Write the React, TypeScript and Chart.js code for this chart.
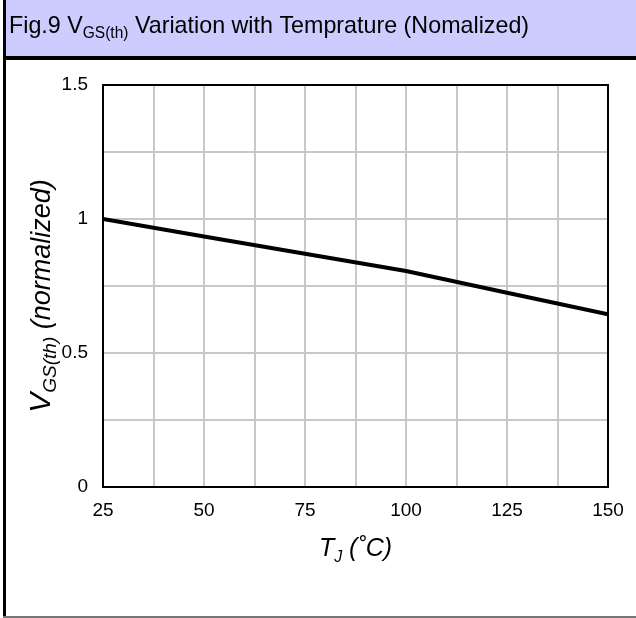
import React, { useEffect, useRef } from "react";
import { Chart, registerables } from "chart.js";

Chart.register(...registerables);

const temps = [25, 50, 75, 100, 125, 150];
const vgsNorm = [1.0, 0.935, 0.87, 0.806, 0.725, 0.644];
const xTickLabels = [25, 50, 75, 100, 125, 150];
const yTickLabels = [0, 0.5, 1, 1.5];

const FONT = "'Liberation Sans', Arial, sans-serif";

type Part = { text: string; size: number; italic?: boolean; dy?: number };

function drawRich(
  ctx: CanvasRenderingContext2D,
  parts: Part[],
  x: number,
  y: number,
  align: "left" | "center",
  sx = 1
) {
  let total = 0;
  for (const p of parts) {
    ctx.font = `${p.italic ? "italic " : ""}${p.size}px ${FONT}`;
    total += ctx.measureText(p.text).width;
  }
  ctx.save();
  ctx.translate(x, y);
  ctx.scale(sx, 1);
  let cx = align === "center" ? -total / 2 : 0;
  ctx.textAlign = "left";
  ctx.textBaseline = "alphabetic";
  for (const p of parts) {
    ctx.font = `${p.italic ? "italic " : ""}${p.size}px ${FONT}`;
    ctx.fillText(p.text, cx, p.dy || 0);
    cx += ctx.measureText(p.text).width;
  }
  ctx.restore();
}

const framePlugin = {
  id: "frame",
  beforeDraw(chart: any) {
    const ctx = chart.ctx as CanvasRenderingContext2D;
    const W = chart.width;
    const H = chart.height;
    ctx.save();
    ctx.fillStyle = "#fff";
    ctx.fillRect(0, 0, W, H);
    ctx.fillStyle = "#ccccff";
    ctx.fillRect(6, 0, W - 6, 56);
    ctx.fillStyle = "#000";
    ctx.fillRect(3, 56, W - 3, 4);
    ctx.fillRect(3, 0, 3, H);
    ctx.fillStyle = "#777";
    ctx.fillRect(3, H - 2, W - 3, 2);
    ctx.fillStyle = "#000";
    drawRich(
      ctx,
      [
        { text: "Fig.9 V", size: 24 },
        { text: "GS(th)", size: 16, dy: 5 },
        { text: " Variation with Temprature (Nomalized)", size: 24 },
      ],
      9,
      33,
      "left",
      0.97
    );
    ctx.restore();
  },
  beforeDatasetsDraw(chart: any) {
    const { ctx, chartArea } = chart;
    ctx.save();
    ctx.strokeStyle = "#000";
    ctx.lineWidth = 2;
    ctx.strokeRect(chartArea.left, chartArea.top, chartArea.right - chartArea.left, chartArea.bottom - chartArea.top);
    ctx.restore();
  },
  afterDraw(chart: any) {
    const { ctx, chartArea } = chart;
    ctx.save();
    ctx.fillStyle = "#000";
    const cx = (chartArea.left + chartArea.right) / 2;
    drawRich(
      ctx,
      [
        { text: "T", size: 25, italic: true },
        { text: "J", size: 16, italic: true, dy: 6 },
        { text: " (˚C)", size: 25, italic: true },
      ],
      cx,
      556,
      "center"
    );
    const cy = (chartArea.top + chartArea.bottom) / 2 + 10;
    ctx.translate(50, cy);
    ctx.rotate(-Math.PI / 2);
    drawRich(
      ctx,
      [
        { text: "V", size: 30, italic: true },
        { text: "GS(th)", size: 19, italic: true, dy: 6 },
        { text: " (normalized)", size: 27, italic: true },
      ],
      0,
      0,
      "center"
    );
    ctx.restore();
  },
};

export default function App() {
  const ref = useRef<HTMLCanvasElement | null>(null);
  useEffect(() => {
    document.body.style.margin = "0";
    const canvas = ref.current!;
    const chart = new Chart(canvas, {
      type: "line",
      data: {
        datasets: [
          {
            data: temps.map((t, i) => ({ x: t, y: vgsNorm[i] })),
            borderColor: "#000",
            borderWidth: 4,
            pointRadius: 0,
            tension: 0,
            fill: false,
          },
        ],
      },
      options: {
        animation: false,
        responsive: false,
        layout: { padding: { top: 85, right: 28, left: 0, bottom: 0 } },
        plugins: { legend: { display: false }, tooltip: { enabled: false } },
        scales: {
          x: {
            type: "linear",
            min: 25,
            max: 150,
            afterFit: (s: any) => {
              s.height = 131;
            },
            ticks: {
              stepSize: 12.5,
              autoSkip: false,
              maxRotation: 0,
              padding: 12,
              color: "#000",
              font: { size: 19, family: FONT },
              callback: (v: any) => (xTickLabels.includes(Number(v)) ? String(v) : ""),
            },
            grid: { color: "#c8c8c8", lineWidth: 2, drawTicks: false },
            border: { color: "#000", width: 2 },
          },
          y: {
            min: 0,
            max: 1.5,
            afterFit: (s: any) => {
              s.width = 103;
            },
            ticks: {
              stepSize: 0.25,
              autoSkip: false,
              padding: 15,
              color: "#000",
              font: { size: 19, family: FONT },
              callback: (v: any) => (yTickLabels.includes(Number(v)) ? String(v) : ""),
            },
            grid: { color: "#c8c8c8", lineWidth: 2, drawTicks: false },
            border: { color: "#000", width: 2 },
          },
        },
      },
      plugins: [framePlugin],
    } as any);
    return () => chart.destroy();
  }, []);
  return <canvas ref={ref} width={636} height={618} style={{ display: "block" }} />;
}
